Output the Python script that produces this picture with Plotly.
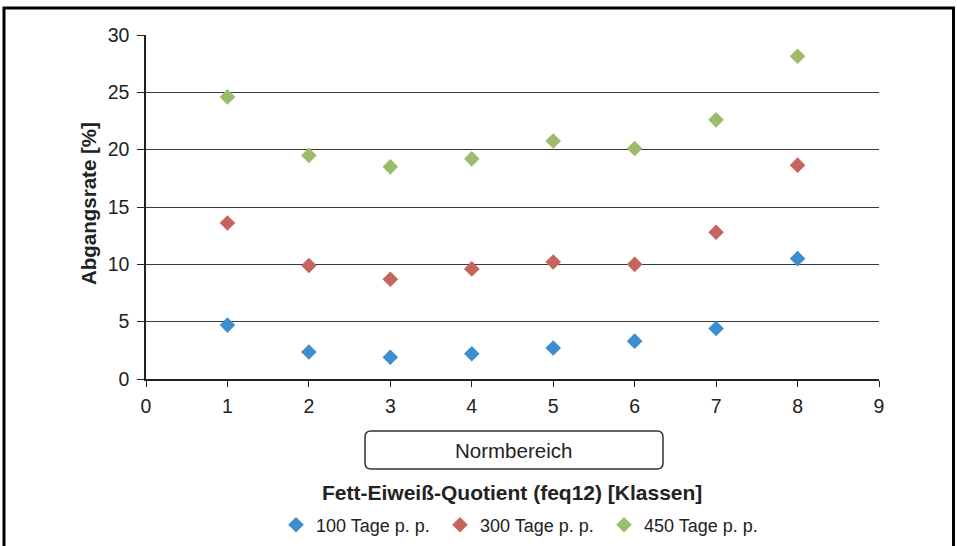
import plotly.graph_objects as go

# Fett-Eiweiß-Quotient classes and culling rates (%) at three lactation stages
klassen = [1, 2, 3, 4, 5, 6, 7, 8]
tage_100 = [4.7, 2.35, 1.9, 2.2, 2.7, 3.3, 4.4, 10.5]
tage_300 = [13.6, 9.9, 8.7, 9.6, 10.2, 10.0, 12.8, 18.65]
tage_450 = [24.6, 19.5, 18.5, 19.2, 20.75, 20.1, 22.6, 28.15]

series_names = ["100 Tage p. p.", "300 Tage p. p.", "450 Tage p. p."]
series_values = [tage_100, tage_300, tage_450]
series_colors = ["#3D8ED0", "#C5655E", "#9CBC6C"]

W, H = 957, 546
L, R, T, B = 146, 879, 35, 379
PW, PH = R - L, B - T


def px_x(px):
    return (px - L) / PW


def px_y(py):
    return (B - py) / PH


def rounded_rect(x0, y0, x1, y1, r):
    """SVG path (paper coords) for a rounded rectangle given in pixels."""
    rx, ry = r / PW, r / PH
    X0, X1 = px_x(x0), px_x(x1)
    Y0, Y1 = px_y(y0), px_y(y1)  # Y0 top, Y1 bottom
    return (
        f"M {X0 + rx},{Y0} L {X1 - rx},{Y0} Q {X1},{Y0} {X1},{Y0 - ry} "
        f"L {X1},{Y1 + ry} Q {X1},{Y1} {X1 - rx},{Y1} "
        f"L {X0 + rx},{Y1} Q {X0},{Y1} {X0},{Y1 + ry} "
        f"L {X0},{Y0 - ry} Q {X0},{Y0} {X0 + rx},{Y0} Z"
    )


fig = go.Figure()
for name, vals, col in zip(series_names, series_values, series_colors):
    fig.add_trace(go.Scatter(
        x=klassen, y=vals, mode="markers", name=name,
        marker=dict(symbol="diamond", size=12, color=col, line=dict(width=0)),
    ))

font_family = "Liberation Sans, Arial, sans-serif"

fig.update_layout(
    width=W, height=H,
    margin=dict(l=L, r=W - R, t=T, b=H - B, autoexpand=False),
    paper_bgcolor="white", plot_bgcolor="white",
    font=dict(family=font_family, color="#222222"),
    showlegend=True,
    legend=dict(
        orientation="h", x=px_x(522), xanchor="center",
        y=px_y(525), yanchor="middle",
        font=dict(size=18, color="#222222"),
        itemwidth=30, entrywidth=119, tracegroupgap=0,
        bgcolor="rgba(0,0,0,0)",
    ),
    xaxis=dict(
        range=[0, 9], dtick=1, tick0=0,
        showgrid=False, zeroline=False,
        showline=True, linecolor="#222222", linewidth=1.5,
        ticks="outside", ticklen=6, tickwidth=1.2, tickcolor="#222222",
        tickfont=dict(size=19.5, color="#222222"),
        ticklabelstandoff=3,
        fixedrange=True,
    ),
    yaxis=dict(
        range=[0, 30], dtick=5, tick0=0,
        showgrid=True, gridcolor="#3a3a3a", gridwidth=1.4,
        zeroline=False,
        showline=True, linecolor="#222222", linewidth=1.5,
        ticks="outside", ticklen=7, tickwidth=1.2, tickcolor="#222222",
        tickfont=dict(size=19.5, color="#222222"),
        ticklabelstandoff=4,
        fixedrange=True,
    ),
    annotations=[
        dict(text="<b>Abgangsrate [%]</b>", xref="paper", yref="paper",
             x=px_x(88), y=px_y(204), textangle=-90, showarrow=False,
             font=dict(size=20.5, color="#222222"), xanchor="center", yanchor="middle"),
        dict(text="<b>Fett-Eiweiß-Quotient (feq12) [Klassen]</b>", xref="paper", yref="paper",
             x=px_x(512), y=px_y(492), showarrow=False,
             font=dict(size=21, color="#222222"), xanchor="center", yanchor="middle"),
        dict(text="Normbereich", xref="paper", yref="paper",
             x=px_x(513), y=px_y(450), showarrow=False,
             font=dict(size=20.5, color="#222222"), xanchor="center", yanchor="middle"),
    ],
    shapes=[
        # outer frame
        dict(type="rect", xref="paper", yref="paper",
             x0=px_x(4), x1=px_x(953.5), y0=px_y(560), y1=px_y(8),
             line=dict(color="black", width=3), fillcolor="rgba(0,0,0,0)", layer="above"),
        # Normbereich box
        dict(type="path", xref="paper", yref="paper",
             path=rounded_rect(365, 431, 663, 469, 6),
             line=dict(color="#333333", width=1.5), fillcolor="rgba(0,0,0,0)"),
    ],
)

fig.write_html("out.html")
